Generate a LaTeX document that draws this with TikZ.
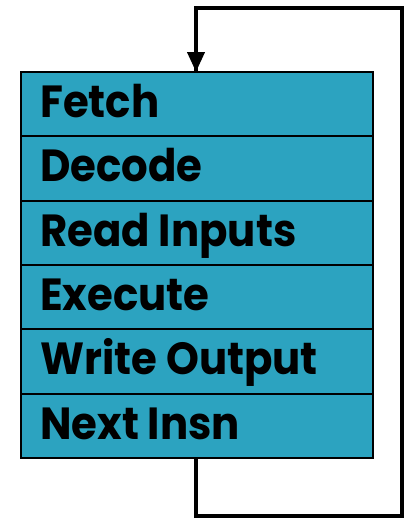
\documentclass[tikz,border=0pt]{standalone}
\usepackage{fontspec}
\setmainfont[FakeStretch=0.93]{Poppins}
\usetikzlibrary{arrows.meta}
\definecolor{stagefill}{RGB}{44,163,192}
\begin{document}
\begin{tikzpicture}[x=1pt,y=-1pt,
  stagebox/.style={draw=black,line width=2pt,fill=stagefill,minimum width=352pt,minimum height=64.3pt,inner sep=0pt,anchor=north west},
  stagetext/.style={anchor=base west,font=\fontsize{45}{45}\selectfont\bfseries,inner sep=0pt},
  loopline/.style={line width=4pt,line join=miter}]
\useasboundingbox (0,0) rectangle (406,520);
\foreach \i/\t [count=\k from 0] in {fetch/Fetch,decode/Decode,read/Read Inputs,exec/Execute,write/Write Output,next/Next Insn}{
  \node[stagebox] (\i) at (20,{71+64.3*\k}) {};
  \node[stagetext] (\i t) at (40,{71+64.3*\k+46.5}) {\t};
}
\coordinate (c1) at (196,516);
\coordinate (c2) at (402,516);
\coordinate (c3) at (402,8);
\coordinate (c4) at (196,8);
\draw[loopline] (next.south -| c1) -- (c1) -- (c2) -- (c3) -- (c4) -- ([yshift=-1pt]fetch.north -| c4);
\draw[-{Triangle[width=17pt,length=20pt]},line width=4pt] ([yshift=24pt]fetch.north -| c4) -- ([yshift=-1pt]fetch.north -| c4);
\end{tikzpicture}
\end{document}
